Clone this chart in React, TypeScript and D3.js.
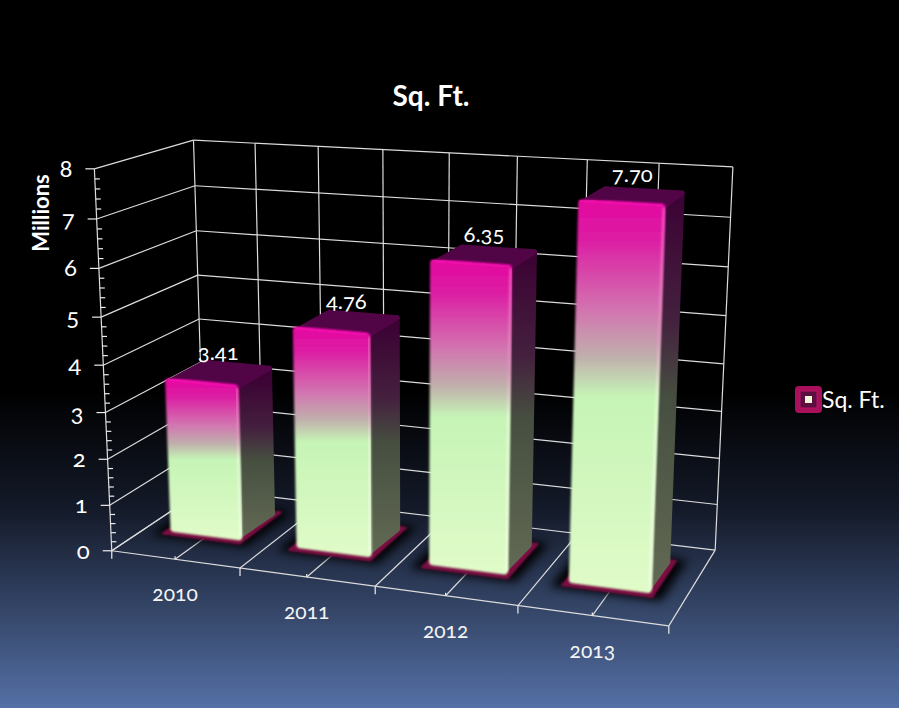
import React from "react";
import * as d3 from "d3";

const categories = ["2010", "2011", "2012", "2013"];
const values = [3.41, 4.76, 6.35, 7.7];
const valueLabels = ["3.41", "4.76", "6.35", "7.70"];
const yTicks = [0, 1, 2, 3, 4, 5, 6, 7, 8];
const yMax = 8;
const title = "Sq. Ft.";
const yTitle = "Millions";
const seriesName = "Sq. Ft.";

// Calibration of the 3D box: [x 0..1, y 0..1, depth 0..1] -> picture position
const boxCorners: [number, number, number, number, number][] = [
  [0, 0, 0, 111.5, 551],
  [0, 1, 0, 95, 169],
  [0, 0, 1, 205, 489],
  [0, 1, 1, 193, 140],
  [1, 0, 1, 715, 550],
  [1, 1, 1, 733, 167],
  [1, 0, 0, 669, 626],
  [0, 0.5, 1, 199, 319],
  [0, 0.5, 0, 103, 365],
  [0.25, 0, 0, 240, 568],
  [0.5, 0, 0, 375, 586],
];

function solveCamera(pts: number[][]) {
  const A: number[][] = [];
  const b: number[] = [];
  for (const [X, Y, Z, u, v] of pts) {
    A.push([X, Y, Z, 1, 0, 0, 0, 0, -u * X, -u * Y, -u * Z]);
    b.push(u);
    A.push([0, 0, 0, 0, X, Y, Z, 1, -v * X, -v * Y, -v * Z]);
    b.push(v);
  }
  const n = 11;
  const M = d3.range(n).map((i) => [
    ...d3.range(n).map((j) => d3.sum(A, (r) => r[i] * r[j])),
    d3.sum(A, (r, k) => r[i] * b[k]),
  ]);
  for (let i = 0; i < n; i++) {
    let p = i;
    for (let r = i + 1; r < n; r++) if (Math.abs(M[r][i]) > Math.abs(M[p][i])) p = r;
    [M[i], M[p]] = [M[p], M[i]];
    for (let r = 0; r < n; r++) {
      if (r === i) continue;
      const f = M[r][i] / M[i][i];
      for (let c = i; c <= n; c++) M[r][c] -= f * M[i][c];
    }
  }
  return M.map((r, i) => r[n] / r[i]);
}
const cam = solveCamera(boxCorners);
const project = (x: number, y: number, z: number): [number, number] => {
  const w = cam[8] * x + cam[9] * y + cam[10] * z + 1;
  return [
    (cam[0] * x + cam[1] * y + cam[2] * z + cam[3]) / w,
    (cam[4] * x + cam[5] * y + cam[6] * z + cam[7]) / w,
  ];
};

const xScale = d3.scaleBand<string>().domain(categories).range([0, 1]);
const yScale = d3.scaleLinear().domain([0, yMax]).range([0, 1]);
const step = xScale.step();
const halfSteps = d3.range(0, 9).map((i) => (i * step) / 2);
const minorTicks = d3.range(0, yMax + 0.001, 0.2);

const line = d3.line();
const poly = (pts: [number, number][]) => line(pts) + "Z";
const seg = (a: [number, number], b: [number, number]) => line([a, b]) as string;

const BAR_X0 = 0.22;
const BAR_X1 = 0.74;
const Z0 = 0.36;
const Z1 = 0.76;
const BEVEL = 0.012;

const FONT = "Lato, 'Open Sans', sans-serif";
const numStyle: React.CSSProperties = {
  fontVariantNumeric: "oldstyle-nums",
  fontFeatureSettings: "'onum'",
};

function Bar({ cat, value, i }: { cat: string; value: number; i: number }) {
  const b0 = xScale(cat)! + BAR_X0 * step;
  const b1 = xScale(cat)! + BAR_X1 * step;
  const t = yScale(value) - BEVEL;
  const fbl = project(b0, BEVEL / 2, Z0);
  const fbr = project(b1, BEVEL / 2, Z0);
  const bbr = project(b1, 0, Z1);
  const ftl = project(b0, t, Z0);
  const ftr = project(b1, t, Z0);
  const btr = project(b1, t, Z1);
  const btl = project(b0, t, Z1);
  const e = 0.03;
  const base = [
    project(b0 - e / 2.5, 0, Z0 - e * 1.9),
    project(b1 + e / 2.5, 0, Z0 - e * 1.9),
    project(b1 + e / 2.5, 0, Z1 + e),
    project(b0 - e / 2.5, 0, Z1 + e),
  ] as [number, number][];
  const shadow = [
    project(b0 - e, 0, Z0 - e * 3),
    project(b1 + e, 0, Z0 - e * 3),
    project(b1 + e, 0, Z1 + e * 2),
    project(b0 - e, 0, Z1 + e * 2),
  ] as [number, number][];
  const topY = Math.min(ftl[1], ftr[1]);
  const botY = Math.max(fbl[1], fbr[1]);
  const gf = `front${i}`;
  const gs = `side${i}`;
  return (
    <g>
      <defs>
        <linearGradient id={gf} gradientUnits="userSpaceOnUse" x1={0} x2={0} y1={topY} y2={botY}>
          <stop offset="0" stopColor="#e2089f" />
          <stop offset="0.1" stopColor="#dc20a4" />
          <stop offset="0.28" stopColor="#d276b0" />
          <stop offset="0.4" stopColor="#c0b0ac" />
          <stop offset="0.5" stopColor="#c6f4b6" />
          <stop offset="1" stopColor="#e0fbc8" />
        </linearGradient>
        <linearGradient id={gs} gradientUnits="userSpaceOnUse" x1={0} x2={0} y1={topY} y2={botY}>
          <stop offset="0" stopColor="#3c0434" />
          <stop offset="0.3" stopColor="#44203e" />
          <stop offset="0.5" stopColor="#464e40" />
          <stop offset="1" stopColor="#626a54" />
        </linearGradient>
        <linearGradient id={`edge${i}`} gradientUnits="userSpaceOnUse" x1={0} x2={0} y1={topY} y2={botY}>
          <stop offset="0" stopColor="#f84ac0" />
          <stop offset="0.35" stopColor="#e098c0" />
          <stop offset="0.5" stopColor="#e4fcd4" />
          <stop offset="1" stopColor="#f0ffe4" />
        </linearGradient>
      </defs>
      <path d={poly(shadow)} fill="#000" opacity={0.95} filter="url(#shadowBlur)" />
      <path d={poly(base)} fill="#7c0f42" stroke="#7c0f42" strokeWidth={2} strokeLinejoin="round" filter="url(#soft)" />
      <path d={poly([ftr, btr, bbr, fbr])} fill={`url(#${gs})`} stroke={`url(#${gs})`} strokeWidth={5} strokeLinejoin="round" />
      <path d={poly([ftl, ftr, btr, btl])} fill="#520546" stroke="#520546" strokeWidth={5} strokeLinejoin="round" />
      <path d={poly([ftl, ftr, fbr, fbl])} fill={`url(#${gf})`} stroke={`url(#${gf})`} strokeWidth={7} strokeLinejoin="round" filter="url(#soft)" />
      <path d={seg(ftl, ftr)} stroke="#f20aae" strokeWidth={3} strokeLinecap="round" transform="translate(0,-2)" filter="url(#soft)" />
      <path d={seg(ftr, fbr)} stroke={`url(#edge${i})`} strokeWidth={2.5} transform="translate(2,0)" filter="url(#soft)" fill="none" />
    </g>
  );
}

export default function App() {
  const gridColor = "#dcdcdc";
  const grid: string[] = [];
  yTicks.forEach((v) => {
    const y = yScale(v);
    grid.push(seg(project(0, y, 0), project(0, y, 1)));
    grid.push(seg(project(0, y, 1), project(1, y, 1)));
  });
  halfSteps.forEach((x) => {
    grid.push(seg(project(x, 0, 0), project(x, 0, 1)));
    grid.push(seg(project(x, 0, 1), project(x, 1, 1)));
  });
  grid.push(seg(project(0, 0, 0), project(1, 0, 0)));
  grid.push(seg(project(0, 0, 0), project(0, 1, 0)));

  const ticks: string[] = [];
  minorTicks.forEach((v) => {
    const [x, y] = project(0, yScale(v), 0);
    const major = Math.abs(v - Math.round(v)) < 1e-6;
    ticks.push(major ? seg([x - 9, y], [x, y]) : seg([x, y], [x + 5, y]));
  });
  halfSteps.forEach((xv, i) => {
    const [x, y] = project(xv, 0, 0);
    ticks.push(i % 2 === 0 ? seg([x, y], [x, y + 8]) : seg([x, y - 3], [x, y]));
  });

  return (
    <svg
      width={899}
      height={708}
      style={{ position: "fixed", left: 0, top: 0, display: "block" }}
      fontFamily={FONT}
    >
      <defs>
        <linearGradient id="bg" x1="0" x2="0" y1="0" y2="1">
          <stop offset="0" stopColor="#000" />
          <stop offset="0.55" stopColor="#000" />
          <stop offset="0.72" stopColor="#141a29" />
          <stop offset="1" stopColor="#5470a5" />
        </linearGradient>
        <filter id="shadowBlur" x="-30%" y="-60%" width="160%" height="220%">
          <feGaussianBlur stdDeviation="5" />
        </filter>
        <filter id="soft" x="-10%" y="-10%" width="120%" height="120%" filterUnits="objectBoundingBox">
          <feGaussianBlur stdDeviation="0.8" />
        </filter>
      </defs>
      <rect width={899} height={708} fill="url(#bg)" />

      <text x={431} y={106} textAnchor="middle" fill="#fff" fontSize={28} fontWeight={700}>
        {title}
      </text>

      <g stroke={gridColor} strokeWidth={1.2} fill="none">
        {grid.map((d, i) => (
          <path key={i} d={d} />
        ))}
        {ticks.map((d, i) => (
          <path key={i} d={d} stroke="#eee" />
        ))}
      </g>

      {yTicks.map((v) => {
        const [x, y] = project(0, yScale(v), 0);
        return (
          <text key={v} x={x - 22} y={y + 8} textAnchor="end" fill="#fff" fontSize={24} style={numStyle}>
            {v}
          </text>
        );
      })}

      <text
        transform="translate(49,213) rotate(-90)"
        textAnchor="middle"
        fill="#fff"
        fontSize={22}
        fontWeight={700}
      >
        {yTitle}
      </text>

      {categories.map((c) => {
        const [x, y] = project(xScale(c)! + step / 2, 0, 0);
        return (
          <text key={c} x={x} y={y + 42} textAnchor="middle" fill="#f4f4f4" fontSize={21} style={numStyle}>
            {c}
          </text>
        );
      })}

      {categories.map((c, i) => (
        <Bar key={c} cat={c} value={values[i]} i={i} />
      ))}

      {categories.map((c, i) => {
        const [x, y] = project(xScale(c)! + step / 2, yScale(values[i]), 0.55);
        return (
          <text key={c} x={x - 3} y={y - 11} textAnchor="middle" fill="#fff" fontSize={22} style={numStyle}>
            {valueLabels[i]}
          </text>
        );
      })}

      <g>
        <rect x={795} y={386} width={27} height={27} rx={4} fill="#a8105c" />
        <rect x={800} y={391} width={17} height={17} fill="#5c1040" stroke="#c01068" strokeWidth={1} />
        <rect x={805} y={396} width={7} height={7} fill="#eef8d8" />
        <text x={822} y={408} fill="#fff" fontSize={23}>
          {seriesName}
        </text>
      </g>
    </svg>
  );
}
